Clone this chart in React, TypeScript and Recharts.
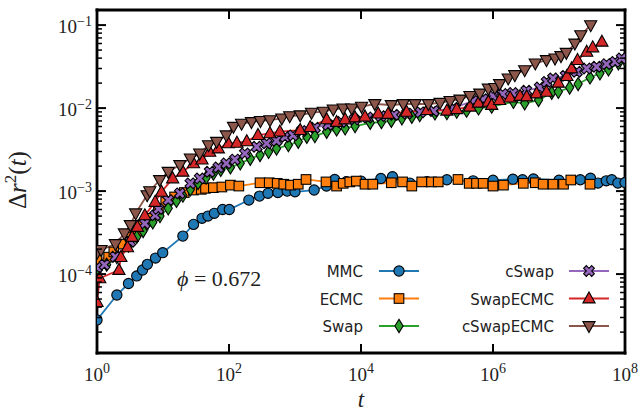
import { LineChart, Line, XAxis, YAxis } from "recharts"

const W = 640
const H = 412
const AX = { left: 60, right: 6, bottom: 30, top: 6 }
const M = { top: 10, right: 15, bottom: 59, left: 97 }

// t, Δr²(t)
const mmc: [number, number][] = [
  [1, 2.8e-5], [2, 5.6e-5], [3, 7.7e-5], [4, 9.5e-5], [4.9, 1.12e-4], [5.8, 1.31e-4],
  [7.7, 1.56e-4], [9.9, 1.81e-4], [20, 2.87e-4], [29, 3.97e-4], [39, 4.7e-4], [48, 5.0e-4],
  [60, 5.4e-4], [80, 6.0e-4], [101, 6.0e-4], [200, 7.8e-4], [290, 8.7e-4], [390, 9.4e-4],
  [550, 9.6e-4], [760, 1.0e-3], [1000, 9.8e-4], [1950, 1.03e-3], [3000, 1.15e-3], [4000, 1.38e-3],
  [6000, 1.3e-3], [10000, 1.32e-3], [20000, 1.42e-3], [30000, 1.49e-3], [55000, 1.25e-3],
  [100000, 1.3e-3], [200000, 1.37e-3], [500000, 1.33e-3], [1e6, 1.35e-3], [2e6, 1.39e-3],
  [2.8e6, 1.37e-3], [4.1e6, 1.4e-3], [1e7, 1.35e-3], [2.1e7, 1.37e-3], [3e7, 1.43e-3],
  [3.9e7, 1.25e-3], [5.2e7, 1.33e-3], [6.3e7, 1.37e-3], [7.8e7, 1.25e-3], [1e8, 1.27e-3],
]

const ecmc: [number, number][] = [
  [1, 1.5e-4], [1.5, 1.6e-4], [1.8, 1.85e-4], [2.5, 2.3e-4], [3.2, 2.8e-4], [4, 3.3e-4],
  [5, 3.9e-4], [6.5, 4.7e-4], [8.5, 5.7e-4], [11, 7.4e-4], [15, 8.5e-4], [21, 9.6e-4],
  [29, 1.03e-3], [38, 1.05e-3], [44, 1.08e-3], [58, 1.1e-3], [78, 1.12e-3], [105, 1.18e-3],
  [141, 1.15e-3], [295, 1.26e-3], [407, 1.26e-3], [537, 1.24e-3], [676, 1.21e-3], [855, 1.18e-3],
  [1120, 1.21e-3], [1470, 1.38e-3], [2950, 1.29e-3], [4270, 1.15e-3], [5370, 1.24e-3],
  [6760, 1.29e-3], [8510, 1.32e-3], [11500, 1.21e-3], [15100, 1.21e-3], [28800, 1.26e-3],
  [42700, 1.29e-3], [58900, 1.15e-3], [83200, 1.29e-3], [117000, 1.29e-3], [148000, 1.29e-3],
  [295000, 1.38e-3], [436000, 1.24e-3], [562000, 1.24e-3], [708000, 1.24e-3], [1e6, 1.15e-3],
  [1.44e6, 1.18e-3], [2.88e6, 1.24e-3], [4.37e6, 1.26e-3], [5.75e6, 1.21e-3], [8.13e6, 1.21e-3],
  [1.17e7, 1.21e-3], [1.51e7, 1.36e-3], [2.95e7, 1.21e-3],
]

const swap: [number, number][] = [
  [1, 1.05e-4], [1.4, 1.3e-4], [2, 1.6e-4], [3, 2.2e-4], [4, 2.8e-4], [5, 3.3e-4], [7, 4.2e-4],
  [9, 5.0e-4], [12, 6.2e-4], [16, 7.6e-4], [20, 8.8e-4], [26, 1.05e-3], [34, 1.25e-3],
  [45, 1.45e-3], [58, 1.62e-3], [75, 1.8e-3], [105, 1.93e-3], [148, 2.16e-3], [210, 2.45e-3],
  [295, 2.72e-3], [398, 2.97e-3], [525, 3.26e-3], [794, 3.58e-3], [1120, 3.93e-3], [1510, 4.51e-3],
  [2000, 4.6e-3], [3020, 5.18e-3], [4270, 5.53e-3], [5750, 5.7e-3], [8130, 6.07e-3],
  [13800, 6.65e-3], [20400, 6.8e-3], [28800, 7.03e-3], [41700, 7.52e-3], [58900, 7.86e-3],
  [77600, 8.24e-3], [132000, 8.63e-3], [200000, 8.7e-3], [282000, 9.04e-3], [398000, 9.3e-3],
  [603000, 9.9e-3], [955000, 1.04e-2], [2.04e6, 1.19e-2], [3.02e6, 1.14e-2], [4.9e6, 1.25e-2],
  [7.76e6, 1.53e-2], [9.77e6, 1.57e-2], [1.45e7, 1.77e-2], [1.95e7, 1.95e-2], [2.95e7, 2.34e-2],
  [4.17e7, 2.62e-2], [5.62e7, 2.92e-2], [7.94e7, 3.46e-2], [1e8, 3.8e-2],
]

const cswap: [number, number][] = [
  [1, 1.2e-4], [1.3, 1.3e-4], [1.9, 1.62e-4], [3.2, 2.45e-4], [5.3, 4.07e-4], [7.6, 5.1e-4],
  [8.5, 6.1e-4], [12, 7.8e-4], [18, 9.4e-4], [26, 1.24e-3], [36, 1.42e-3], [51, 1.71e-3],
  [69, 1.93e-3], [91, 2.16e-3], [123, 2.4e-3], [174, 2.84e-3], [263, 3.42e-3], [372, 3.76e-3],
  [525, 4.04e-3], [708, 4.51e-3], [933, 4.7e-3], [1260, 5.3e-3], [2000, 5.8e-3], [3160, 6.3e-3],
  [5000, 6.8e-3], [7940, 7.3e-3], [12600, 7.7e-3], [20000, 8.0e-3], [31600, 8.3e-3],
  [50100, 8.6e-3], [79400, 8.9e-3], [126000, 9.2e-3], [251000, 1.0e-2], [500000, 1.22e-2],
  [708000, 1.28e-2], [1e6, 1.4e-2], [1.4e6, 1.48e-2], [2e6, 1.52e-2], [3.2e6, 1.62e-2],
  [5.1e6, 1.77e-2], [6.5e6, 2.07e-2], [8.1e6, 2.28e-2], [1.26e7, 2.45e-2], [1.86e7, 2.74e-2],
  [2.63e7, 3.0e-2], [3.72e7, 3.15e-2], [5.25e7, 3.39e-2], [7.08e7, 3.6e-2], [8.9e7, 3.97e-2],
]

const swapEcmc: [number, number][] = [
  [1, 4.6e-5], [1.1, 8.9e-5], [2.15, 1.12e-4], [2.3, 1.6e-4], [2.9, 2.1e-4], [3.4, 2.8e-4],
  [4.1, 3.7e-4], [5.3, 5.1e-4], [7.6, 7.4e-4], [9.5, 9.8e-4], [14, 1.42e-3], [20, 1.71e-3],
  [29, 2.16e-3], [39, 2.4e-3], [51, 2.97e-3], [69, 3.26e-3], [98, 3.76e-3], [132, 3.82e-3],
  [186, 3.98e-3], [275, 4.73e-3], [417, 4.96e-3], [589, 5.2e-3], [1200, 5.43e-3], [1700, 5.9e-3],
  [3020, 7.3e-3], [4270, 6.8e-3], [5750, 7.3e-3], [8130, 7.7e-3], [11500, 7.9e-3],
  [18200, 8.6e-3], [25700, 8.5e-3], [49000, 9.0e-3], [100000, 9.46e-3], [200000, 9.3e-3],
  [282000, 9.7e-3], [447000, 1.04e-2], [603000, 1.16e-2], [851000, 1.19e-2], [955000, 1.09e-2],
  [1.26e6, 1.25e-2], [1.82e6, 1.34e-2], [2.57e6, 1.4e-2], [3.24e6, 1.38e-2], [4.57e6, 1.5e-2],
  [6.46e6, 1.57e-2], [9.77e6, 2.02e-2], [1.32e7, 2.43e-2], [1.55e7, 3.0e-2], [1.91e7, 3.79e-2],
  [2.63e7, 4.77e-2], [3.24e7, 5.38e-2], [4.47e7, 6.3e-2],
]

const cswapEcmc: [number, number][] = [
  [1, 1.8e-4], [1.15, 1.96e-4], [1.9, 2.3e-4], [2.6, 3.1e-4], [3.2, 3.9e-4], [3.85, 5.4e-4],
  [5.75, 8.95e-4], [6.3, 1.0e-3], [8.9, 1.36e-3], [12, 1.71e-3], [18, 2.06e-3], [26, 2.48e-3],
  [36, 2.84e-3], [49, 3.58e-3], [65, 3.93e-3], [91, 4.7e-3], [117, 5.96e-3], [155, 6.5e-3],
  [219, 6.8e-3], [300, 7.0e-3], [417, 7.16e-3], [631, 7.5e-3], [832, 8.0e-3], [1200, 8.2e-3],
  [1780, 8.8e-3], [2690, 9.05e-3], [3800, 9.65e-3], [5370, 9.9e-3], [7240, 9.9e-3],
  [10200, 1.04e-2], [16200, 1.12e-2], [28800, 1.09e-2], [43700, 1.12e-2], [66100, 1.12e-2],
  [105000, 1.12e-2], [158000, 1.16e-2], [224000, 1.22e-2], [316000, 1.27e-2], [447000, 1.4e-2],
  [631000, 1.5e-2], [851000, 1.72e-2], [1.07e6, 1.75e-2], [1.26e6, 1.95e-2], [1.7e6, 2.28e-2],
  [2.14e6, 2.5e-2], [3.02e6, 2.87e-2], [4.37e6, 3.46e-2], [6.46e6, 3.79e-2], [8.71e6, 3.97e-2],
  [1.07e7, 4.24e-2], [1.29e7, 4.64e-2], [1.74e7, 6.0e-2], [2.14e7, 7.58e-2], [3.02e7, 0.1],
]

const xTicks = [1, 1e2, 1e4, 1e6, 1e8]
const xTickExp = ["0", "2", "4", "6", "8"]
const yMajor = [1e-4, 1e-3, 1e-2, 1e-1]
const yTickExp = ["−4", "−3", "−2", "−1"]
const yDomain = [1.12e-5, 0.152]

const yMinor: number[] = []
for (const e of [-5, -4, -3, -2]) {
  for (let m = 2; m <= 9; m++) {
    const v = Number((m * Math.pow(10, e)).toPrecision(3))
    if (v > yDomain[0] && v < yDomain[1]) yMinor.push(v)
  }
}
const yTicks = [...yMajor, ...yMinor].sort((a, b) => a - b)

type Shape = "circle" | "square" | "diamond" | "x" | "up" | "down"

const series: { name: string; data: [number, number][]; color: string; shape: Shape }[] = [
  { name: "MMC", data: mmc, color: "#1f77b4", shape: "circle" },
  { name: "ECMC", data: ecmc, color: "#ff7f0e", shape: "square" },
  { name: "Swap", data: swap, color: "#2ca02c", shape: "diamond" },
  { name: "cSwap", data: cswap, color: "#9467bd", shape: "x" },
  { name: "SwapECMC", data: swapEcmc, color: "#d62728", shape: "up" },
  { name: "cSwapECMC", data: cswapEcmc, color: "#8c564b", shape: "down" },
]

function Marker({ shape, x, y, fill }: { shape: Shape; x: number; y: number; fill: string }) {
  const p = { fill, stroke: "#000", strokeWidth: 1.1 }
  switch (shape) {
    case "circle":
      return <circle cx={x} cy={y} r={5.1} {...p} />
    case "square":
      return <rect x={x - 4.8} y={y - 4.8} width={9.6} height={9.6} {...p} />
    case "diamond":
      return <polygon points={`${x},${y - 6.6} ${x + 4.1},${y} ${x},${y + 6.6} ${x - 4.1},${y}`} {...p} />
    case "x": {
      const a = 1.9, l = 5.7
      const pts = [[-a, -l], [a, -l], [a, -a], [l, -a], [l, a], [a, a], [a, l], [-a, l], [-a, a], [-l, a], [-l, -a], [-a, -a]]
      return (
        <polygon
          points={pts.map(([dx, dy]) => `${x + dx},${y + dy}`).join(" ")}
          transform={`rotate(45 ${x} ${y})`}
          {...p}
        />
      )
    }
    case "up":
      return <polygon points={`${x},${y - 6.6} ${x + 6.1},${y + 4.4} ${x - 6.1},${y + 4.4}`} {...p} />
    case "down":
      return <polygon points={`${x},${y + 6.6} ${x + 6.1},${y - 4.4} ${x - 6.1},${y - 4.4}`} {...p} />
  }
}

const serif = "'Liberation Serif', 'DejaVu Serif', serif"
const sans = "'DejaVu Sans', sans-serif"
const axisLine = { stroke: "#000", strokeWidth: 2.8, strokeLinecap: "square" as const }

function LeftTick(props: any) {
  const { y, payload } = props
  const i = yMajor.indexOf(payload.value)
  const major = i >= 0
  return (
    <g>
      <line x1={M.left} x2={M.left + (major ? 9 : 5)} y1={y} y2={y} stroke="#000" strokeWidth={major ? 2 : 1.5} />
      {major && (
        <text x={M.left - 5} y={y + 8} textAnchor="end" fontFamily={serif} fontSize={19} fill="#222">
          10<tspan dy={-7} fontSize={14}>{yTickExp[i]}</tspan>
        </text>
      )}
    </g>
  )
}

function RightTick(props: any) {
  const { y, payload } = props
  const major = yMajor.indexOf(payload.value) >= 0
  const xr = W - M.right
  return <line x1={xr} x2={xr - (major ? 9 : 5)} y1={y} y2={y} stroke="#000" strokeWidth={major ? 2 : 1.5} />
}

function BottomTick(props: any) {
  const { x, payload } = props
  const i = xTicks.indexOf(payload.value)
  const yb = H - M.bottom
  return (
    <g>
      <line x1={x} x2={x} y1={yb} y2={yb - 9} stroke="#000" strokeWidth={2} />
      <text x={x} y={yb + 28} textAnchor="middle" fontFamily={serif} fontSize={19} fill="#222">
        10<tspan dy={-8} fontSize={14}>{xTickExp[i]}</tspan>
      </text>
    </g>
  )
}

function TopTick(props: any) {
  const { x } = props
  return <line x1={x} x2={x} y1={M.top} y2={M.top + 9} stroke="#000" strokeWidth={2} />
}

const legendCols = [
  { textX: 363, lineX: 379, rows: [0, 1, 2] },
  { textX: 554, lineX: 569, rows: [3, 4, 5] },
]
const legendRowY = [271, 298.5, 326]

export default function App() {
  return (
    <div style={{ position: "absolute", left: 0, top: 0, width: W, height: H, background: "#fff" }}>
      <LineChart
        width={W}
        height={H}
        margin={{
          top: M.top - AX.top,
          right: M.right - AX.right,
          bottom: M.bottom - AX.bottom,
          left: M.left - AX.left,
        }}
      >
        <XAxis
          xAxisId="b"
          dataKey="t"
          type="number"
          scale="log"
          domain={[1, 1e8]}
          allowDataOverflow
          ticks={xTicks}
          interval={0}
          height={AX.bottom}
          tickLine={false}
          axisLine={axisLine}
          tick={BottomTick}
        />
        <XAxis
          xAxisId="t"
          orientation="top"
          dataKey="t"
          type="number"
          scale="log"
          domain={[1, 1e8]}
          allowDataOverflow
          ticks={xTicks}
          interval={0}
          height={AX.top}
          tickLine={false}
          axisLine={axisLine}
          tick={TopTick}
        />
        <YAxis
          yAxisId="l"
          type="number"
          scale="log"
          domain={yDomain}
          allowDataOverflow
          ticks={yTicks}
          interval={0}
          width={AX.left}
          tickLine={false}
          axisLine={axisLine}
          tick={LeftTick}
        />
        <YAxis
          yAxisId="r"
          orientation="right"
          type="number"
          scale="log"
          domain={yDomain}
          allowDataOverflow
          ticks={yTicks}
          interval={0}
          width={AX.right}
          tickLine={false}
          axisLine={axisLine}
          tick={RightTick}
        />
        {series.map((s) => (
          <Line
            key={s.name}
            xAxisId="b"
            yAxisId="l"
            data={s.data.map(([t, v]) => ({ t, v }))}
            dataKey="v"
            type="linear"
            stroke={s.color}
            strokeWidth={1.8}
            isAnimationActive={false}
            dot={(p: any) => <Marker key={`${s.name}-${p.index}`} shape={s.shape} x={p.cx} y={p.cy} fill={s.color} />}
            activeDot={false}
          />
        ))}
      </LineChart>
      <svg width={W} height={H} style={{ position: "absolute", left: 0, top: 0, pointerEvents: "none" }}>
        <text transform="translate(26 180) rotate(-90)" textAnchor="middle" fontFamily={serif} fontSize={25} fill="#222">
          Δ<tspan fontStyle="italic">r</tspan>
          <tspan dy={-10} fontSize={17}>2</tspan>
          <tspan dy={10}>(</tspan>
          <tspan fontStyle="italic">t</tspan>)
        </text>
        <text x={361} y={407} textAnchor="middle" fontFamily={serif} fontSize={23} fontStyle="italic" fill="#222">
          t
        </text>
        <text x={177} y={286} fontFamily={serif} fontSize={22} fill="#222">
          <tspan fontStyle="italic">ϕ</tspan> = 0.672
        </text>
        {legendCols.map((c) =>
          c.rows.map((ri, k) => {
            const s = series[ri]
            const y = legendRowY[k]
            return (
              <g key={s.name}>
                <text x={c.textX} y={y + 6} textAnchor="end" fontFamily={sans} fontSize={15} fill="#222">
                  {s.name}
                </text>
                <line x1={c.lineX} x2={c.lineX + 40} y1={y} y2={y} stroke={s.color} strokeWidth={1.8} />
                <Marker shape={s.shape} x={c.lineX + 20} y={y} fill={s.color} />
              </g>
            )
          })
        )}
      </svg>
    </div>
  )
}
